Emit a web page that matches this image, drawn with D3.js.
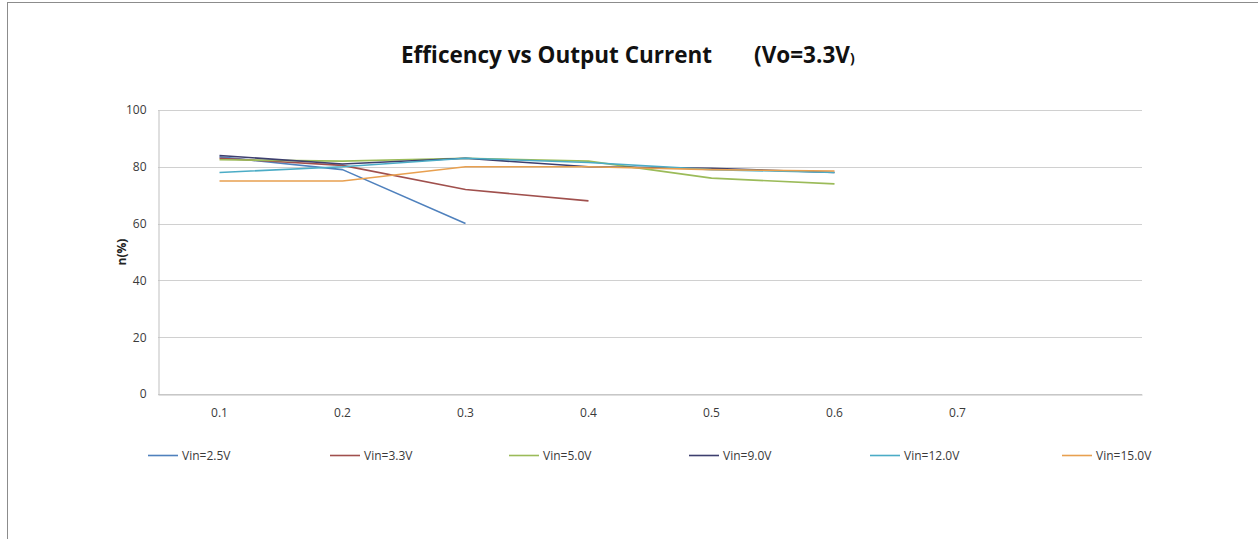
<!DOCTYPE html>
<html><head><meta charset="utf-8">
<script src="https://cdn.jsdelivr.net/npm/d3@7"></script>
<style>body{margin:0;background:#fff;} text{font-family:"Open Sans","Noto Sans",sans-serif;}</style>
</head><body><svg id="c" width="1258" height="539"></svg>
<script>
const categories = ["0.1","0.2","0.3","0.4","0.5","0.6","0.7",""];
const seriesNames = ["Vin=2.5V","Vin=3.3V","Vin=5.0V","Vin=9.0V","Vin=12.0V","Vin=15.0V"];
const vin25 = [83.5, 79, 60];
const vin33 = [83, 80.5, 72, 68];
const vin50 = [82.5, 82, 83, 82, 76, 74];
const vin90 = [84, 81, 83, 80, 79.5, 78];
const vin120 = [78, 80, 83, 81.5, 79, 78];
const vin150 = [75, 75, 80, 80, 79, 78.5];
const yTicks = [0, 20, 40, 60, 80, 100];
const colors = ["#4F81BD","#A0504D","#9BBB59","#3d3f6e","#4BACC6","#E8A050"];
const allSeries = [vin25, vin33, vin50, vin90, vin120, vin150];

const svg = d3.select("#c");
svg.append("rect").attr("x",7.5).attr("y",2.5).attr("width",1270).attr("height",600)
  .attr("fill","none").attr("stroke","#8c8c8c").attr("stroke-width",1);

const pL=158, pR=1142, pT=110, pB=394;
const x = d3.scaleBand().domain(categories.map((c,i)=>i)).range([pL,pR]);
const y = d3.scaleLinear().domain([0,100]).range([pB,pT]);

// gridlines
svg.append("g").selectAll("line").data(yTicks).join("line")
  .attr("x1",pL).attr("x2",pR).attr("y1",d=>Math.round(y(d))+0.5).attr("y2",d=>Math.round(y(d))+0.5)
  .attr("stroke","#d0d0d0").attr("stroke-width",1);

// y axis
const yAxis = svg.append("g").attr("transform",`translate(${pL+0.5},0)`)
  .call(d3.axisLeft(y).tickValues(yTicks).tickSize(0).tickPadding(12));
yAxis.select(".domain").attr("stroke","#bfbfbf");
yAxis.selectAll("text").attr("font-size",12).attr("fill","#3a3a3a");

// x axis
const xAxis = svg.append("g").attr("transform",`translate(0,${pB+0.5})`)
  .call(d3.axisBottom(x).tickFormat(i=>categories[i]).tickSize(0).tickPadding(14));
xAxis.select(".domain").attr("stroke","#bfbfbf");
xAxis.selectAll("text").attr("font-size",12).attr("fill","#3a3a3a");

// lines
const line = d3.line().x((d,i)=>x(i)+x.bandwidth()/2).y(d=>y(d));
svg.append("g").selectAll("path").data(allSeries).join("path")
  .attr("d",d=>line(d)).attr("fill","none")
  .attr("stroke",(d,i)=>colors[i]).attr("stroke-width",1.6).attr("stroke-linejoin","round");

// title
const t = svg.append("text").attr("x",401).attr("y",63).attr("text-anchor","start")
  .attr("font-size",22.5).attr("font-weight","bold").attr("fill","#111");
t.append("tspan").text("Efficency vs Output Current");
t.append("tspan").attr("dx",42).text("(Vo=3.3V");
t.append("tspan").attr("font-size",14).text(")");

// y label
svg.append("text").attr("transform","translate(126,252) rotate(-90)").attr("text-anchor","middle")
  .attr("font-size",12).attr("font-weight","bold").attr("fill","#222").text("n(%)");

// legend
const legX = [148, 330, 509, 689, 870, 1062];
const lg = svg.append("g").selectAll("g").data(seriesNames).join("g")
  .attr("transform",(d,i)=>`translate(${legX[i]},455)`);
lg.append("line").attr("x1",0).attr("x2",30).attr("y1",0.5).attr("y2",0.5)
  .attr("stroke",(d,i)=>colors[i]).attr("stroke-width",1.6);
lg.append("text").attr("x",34).attr("y",4.5).attr("font-size",12).attr("fill","#3a3a3a").text(d=>d);
</script></body></html>
